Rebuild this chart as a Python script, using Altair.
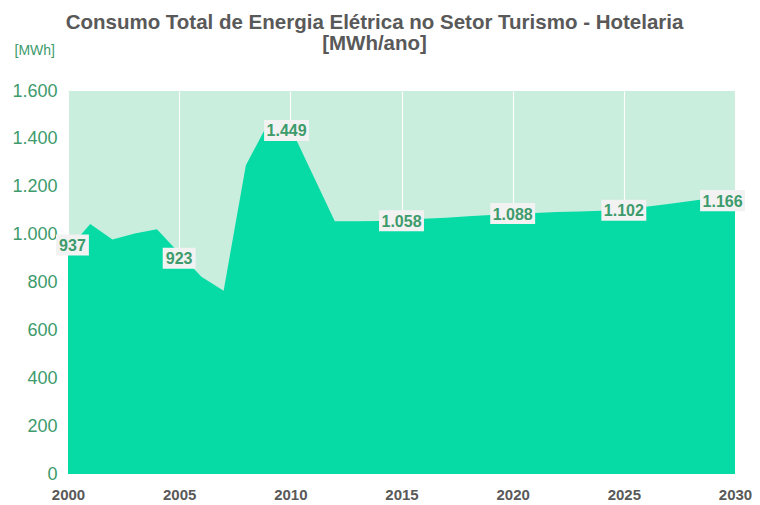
import altair as alt
import pandas as pd

anos = list(range(2000, 2031))
consumo = [937, 1044, 980, 1005, 1022, 923, 824, 766, 1290, 1465,
           1449, 1252, 1056, 1056, 1057, 1058, 1066, 1071, 1077, 1082,
           1088, 1090, 1094, 1097, 1100, 1102, 1116, 1128, 1140, 1153,
           1166]
anos_rotulo = [2000, 2005, 2010, 2015, 2020, 2025, 2030]
valores_rotulo = [937, 923, 1449, 1058, 1088, 1102, 1166]
textos_rotulo = ["937", "923", "1.449", "1.058", "1.088", "1.102", "1.166"]
ticks_x = [2000, 2005, 2010, 2015, 2020, 2025, 2030]
ticks_y = [0, 200, 400, 600, 800, 1000, 1200, 1400, 1600]

df = pd.DataFrame({"ano": anos, "consumo": consumo})
lab = pd.DataFrame({"ano": anos_rotulo, "valor": valores_rotulo, "texto": textos_rotulo})

REG = "Liberation Sans, Arial, sans-serif"
GREEN_TXT = "#3d9b6c"
GREY = "#595959"

xscale = alt.Scale(domain=[2000, 2030], nice=False, zero=False)
yscale = alt.Scale(domain=[0, 1600], nice=False)

xaxis = alt.Axis(values=ticks_x, format="d", grid=True, gridColor="white", gridWidth=1.2,
                 ticks=False, domain=False, labelFont=REG, labelFontWeight="bold",
                 labelFontSize=15, labelColor=GREY, labelPadding=13, labelFlush=False)
yaxis = alt.Axis(values=ticks_y, format=",d", labelExpr="replace(datum.label, ',', '.')",
                 grid=False, ticks=False, domain=False, labelFont=REG, labelFontSize=18,
                 labelColor=GREEN_TXT, labelPadding=11, title="[MWh]", titleAngle=0,
                 titleX=-54, titleY=-41, titleAlign="left", titleBaseline="middle",
                 titleFont=REG, titleFontWeight="normal", titleFontSize=14,
                 titleColor=GREEN_TXT)

area = alt.Chart(df).mark_area(color="#06DBA6", opacity=1).encode(
    x=alt.X("ano:Q", scale=xscale, axis=xaxis, title=None),
    y=alt.Y("consumo:Q", scale=yscale, axis=yaxis, title="[MWh]"),
)

calc = dict(
    lx="datum.ano + (datum.ano == 2000 ? 0.2 : datum.ano == 2030 ? -0.56 : datum.ano == 2010 ? -0.17 : 0)",
    ly="datum.valor + (datum.ano == 2000 ? 20 : datum.ano == 2005 ? -22 : datum.ano == 2010 ? -14 : datum.ano == 2030 ? -24 : 0)",
    hw="length(datum.texto) == 3 ? 0.74 : 1.01",
)

base = alt.Chart(lab).transform_calculate(**calc).transform_calculate(
    xa="datum.lx - datum.hw", xb="datum.lx + datum.hw",
    ya="datum.ly - 44", yb="datum.ly + 44")

boxes = base.mark_rect(color="#F2F2F2").encode(
    x=alt.X("xa:Q", scale=xscale, axis=xaxis, title=None),
    x2="xb:Q",
    y=alt.Y("ya:Q", scale=yscale, axis=yaxis, title="[MWh]"),
    y2="yb:Q",
)

texts = base.mark_text(font=REG, fontWeight="bold", fontSize=16, color=GREEN_TXT,
                       align="center", baseline="middle", dy=1).encode(
    x=alt.X("lx:Q", scale=xscale, axis=xaxis, title=None),
    y=alt.Y("ly:Q", scale=yscale, axis=yaxis, title="[MWh]"),
    text="texto:N",
)

chart = alt.layer(area, boxes, texts).properties(
    width=667, height=383,
    padding={"left": 60, "top": 83, "right": 17, "bottom": 30},
    autosize=alt.AutoSizeParams(type="none"),
    background="white",
    title=alt.TitleParams(
        text=["Consumo Total de Energia Elétrica no Setor Turismo - Hotelaria", "[MWh/ano]"],
        font=REG, fontSize=20.5, fontWeight="bold", color=GREY, anchor="middle",
        frame="group", dx=-27, lineHeight=21, offset=20, dy=31),
).configure_view(fill="#C9EEDD", strokeWidth=0)

chart.save("out.html", embed_options={"renderer": "svg", "actions": False})
